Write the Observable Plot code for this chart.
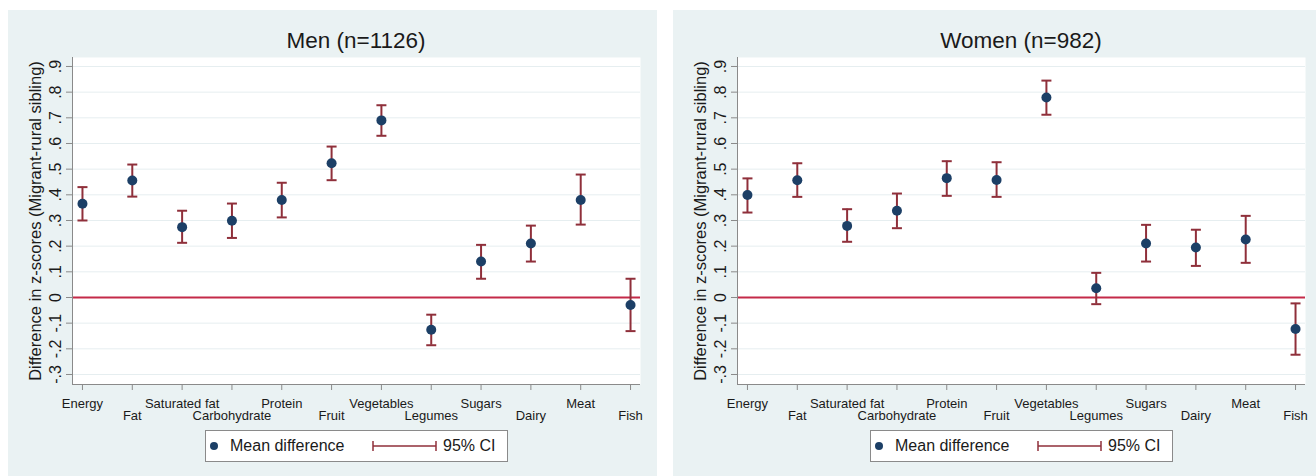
<!DOCTYPE html>
<html><head><meta charset="utf-8">
<script src="https://cdn.jsdelivr.net/npm/d3@7"></script>
<script src="https://cdn.jsdelivr.net/npm/@observablehq/plot@0.6"></script>
<style>
body{margin:0;background:#fff;font-family:"Liberation Sans",Arial,sans-serif;}
#root{position:relative;width:1316px;height:476px;overflow:hidden;}
.panel{position:absolute;top:10px;height:466px;background:#eaf2f3;}
.title{position:absolute;top:17px;left:64px;width:568px;text-align:center;font-size:22.5px;line-height:28px;color:#1a1a1a;}
.plotwrap{position:absolute;top:0;left:0;}
.legend{position:absolute;top:420px;left:197px;width:301px;height:30px;border:1px solid #8a8a8a;background:#fff;font-size:16px;color:#1a1a1a;}
.legend span{position:absolute;top:6px;line-height:18px;white-space:nowrap;}
.legend svg{position:absolute;top:0;}
</style>
</head><body><div id="root"></div>
<script>
const categories = ["Energy","Fat","Saturated fat","Carbohydrate","Protein","Fruit","Vegetables","Legumes","Sugars","Dairy","Meat","Fish"];
const menMean  = [0.365,0.456,0.274,0.299,0.380,0.523,0.690,-0.126,0.140,0.210,0.380,-0.029];
const menLower = [0.300,0.393,0.213,0.232,0.312,0.457,0.630,-0.186,0.073,0.140,0.284,-0.131];
const menUpper = [0.430,0.518,0.338,0.366,0.447,0.588,0.749,-0.067,0.205,0.280,0.479,0.073];
const womenMean  = [0.399,0.457,0.279,0.338,0.465,0.458,0.779,0.036,0.210,0.195,0.226,-0.123];
const womenLower = [0.331,0.392,0.217,0.270,0.396,0.392,0.712,-0.026,0.140,0.123,0.135,-0.223];
const womenUpper = [0.464,0.523,0.344,0.405,0.531,0.527,0.845,0.096,0.283,0.264,0.318,-0.023];
const yTicks = [-0.3,-0.2,-0.1,0,0.1,0.2,0.3,0.4,0.5,0.6,0.7,0.8,0.9];
const yDomain = [-0.339, 0.935];
const yLabel = "Difference in z-scores (Migrant-rural sibling)";
const panels = [
  {title:"Men (n=1126)", mean:menMean, lower:menLower, upper:menUpper, left:8, width:649},
  {title:"Women (n=982)", mean:womenMean, lower:womenLower, upper:womenUpper, left:673, width:643}
];
const legendLabels = ["Mean difference","95% CI"];

const navy = "#1c3f66", maroon = "#8f2f3a", zeroRed = "#c42a48", axisGray = "#8a8a8a", txt = "#1a1a1a";
const xPad = 0.2;
const xDomain = [-xPad, categories.length - 1 + xPad];
const idx = categories.map((_, i) => i);
const evenIdx = idx.filter(i => i % 2 === 0);
const oddIdx = idx.filter(i => i % 2 === 1);
const fmt = d => d === 0 ? "0" : d3.format(".1f")(d).replace(/\u2212/, "-").replace(/^(-?)0\./, "$1.");
const capSymbol = {draw(ctx, size){ const w = Math.sqrt(size / Math.PI); ctx.moveTo(-w, 0); ctx.lineTo(w, 0); }};

const root = document.getElementById("root");
for (const p of panels) {
  const data = categories.map((c, i) => ({i, cat:c, mean:p.mean[i], lo:p.lower[i], hi:p.upper[i]}));
  const panel = document.createElement("div");
  panel.className = "panel";
  panel.style.left = p.left + "px";
  panel.style.width = p.width + "px";
  root.appendChild(panel);

  const chart = Plot.plot({
    width: 640, height: 420,
    marginLeft: 64, marginRight: 8, marginTop: 47, marginBottom: 46,
    style: {fontFamily: '"Liberation Sans", Arial, sans-serif', background: "transparent", overflow: "visible"},
    x: {type: "linear", domain: xDomain, axis: null},
    y: {domain: yDomain, axis: null},
    marks: [
      Plot.frame({fill: "white", stroke: null}),
      Plot.gridY(yTicks, {stroke: "#e6eef0", strokeOpacity: 1, strokeWidth: 1}),
      Plot.ruleY([0], {stroke: zeroRed, strokeWidth: 2}),
      Plot.ruleX([xDomain[0]], {stroke: axisGray, strokeWidth: 1}),
      Plot.ruleY([yDomain[0]], {stroke: axisGray, strokeWidth: 1}),
      Plot.axisY({ticks: yTicks, tickSize: 6, tickFormat: () => "", label: null, stroke: axisGray}),
      Plot.text(yTicks, {y: d => d, text: fmt, frameAnchor: "left", textAnchor: "middle", dx: -17, rotate: -90, fontSize: 16, fill: txt}),
      Plot.text([yLabel], {frameAnchor: "left", textAnchor: "middle", dx: -37, rotate: -90, fontSize: 16.5, fill: txt}),
      Plot.axisX({ticks: evenIdx, tickFormat: i => categories[i], label: null, tickSize: 6, tickPadding: 8, fontSize: 13, stroke: axisGray, fill: txt}),
      Plot.axisX({ticks: oddIdx, tickFormat: i => categories[i], label: null, tickSize: 6, tickPadding: 20, fontSize: 13, stroke: axisGray, fill: txt}),
      Plot.ruleX(data, {x: "i", y1: "lo", y2: "hi", stroke: maroon, strokeWidth: 2}),
      Plot.dot(data, {x: "i", y: "lo", symbol: capSymbol, r: 5, stroke: maroon, strokeWidth: 2}),
      Plot.dot(data, {x: "i", y: "hi", symbol: capSymbol, r: 5, stroke: maroon, strokeWidth: 2}),
      Plot.dot(data, {x: "i", y: "mean", r: 5, fill: navy, stroke: null})
    ]
  });
  const wrap = document.createElement("div");
  wrap.className = "plotwrap";
  wrap.appendChild(chart);
  panel.appendChild(wrap);

  const t = document.createElement("div");
  t.className = "title";
  t.textContent = p.title;
  panel.appendChild(t);

  const lg = document.createElement("div");
  lg.className = "legend";
  lg.innerHTML =
    `<svg width="20" height="30" style="left:0"><circle cx="8" cy="15" r="4" fill="${navy}"/></svg>` +
    `<span style="left:24px">${legendLabels[0]}</span>` +
    `<svg width="70" height="30" style="left:164px"><line x1="3" x2="66" y1="15" y2="15" stroke="${maroon}" stroke-width="1.5"/><line x1="3" x2="3" y1="10" y2="20" stroke="${maroon}" stroke-width="1.5"/><line x1="66" x2="66" y1="10" y2="20" stroke="${maroon}" stroke-width="1.5"/></svg>` +
    `<span style="left:237px">${legendLabels[1]}</span>`;
  panel.appendChild(lg);
}
</script></body></html>
